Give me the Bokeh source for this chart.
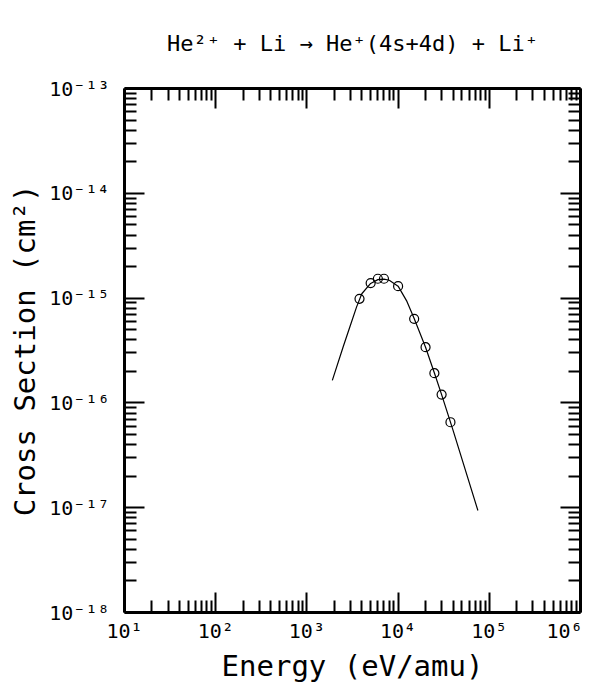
import numpy as np
from bokeh.plotting import figure
from bokeh.models import LogAxis, FixedTicker, ColumnDataSource
from bokeh.embed import file_html
from bokeh.resources import INLINE

# ---- texts ----
title_text = "He²⁺ + Li → He⁺(4s+4d) + Li⁺"
x_title = "Energy (eV/amu)"
y_title = "Cross Section (cm²)"

# ---- ticks ----
x_ticks = [1e1, 1e2, 1e3, 1e4, 1e5, 1e6]
x_tick_labels = ["10¹", "10²", "10³", "10⁴", "10⁵", "10⁶"]
y_ticks = [1e-18, 1e-17, 1e-16, 1e-15, 1e-14, 1e-13]
y_tick_labels = ["10⁻¹⁸", "10⁻¹⁷", "10⁻¹⁶", "10⁻¹⁵", "10⁻¹⁴", "10⁻¹³"]
minor_mult = [2, 3, 4, 5, 6, 7, 8, 9]

# ---- data: fitted curve ----
fit_energy = [1900, 2500, 3000, 3500, 4000, 5000, 6000, 7000, 8000,
              10000, 12500, 15000, 20000, 25000, 30000, 40000, 75000]
fit_sigma = [1.64e-16, 3.43e-16, 5.5e-16, 8.2e-16, 1.10e-15, 1.38e-15, 1.50e-15,
             1.52e-15, 1.48e-15, 1.30e-15, 9.3e-16, 6.4e-16, 3.4e-16, 1.93e-16,
             1.20e-16, 5.5e-17, 9.4e-18]

# ---- data: measured points ----
exp_energy = [3775, 5000, 6000, 7000, 10000, 15000, 20000, 25000, 30000, 37500]
exp_sigma = [9.85e-16, 1.39e-15, 1.53e-15, 1.53e-15, 1.30e-15, 6.34e-16,
             3.40e-16, 1.92e-16, 1.20e-16, 6.54e-17]

FONT = "DejaVu Sans Mono"

p = figure(frame_width=456, frame_height=524, x_axis_type="log", y_axis_type="log",
           x_range=(x_ticks[0], x_ticks[-1]), y_range=(y_ticks[0], y_ticks[-1]),
           output_backend="svg", toolbar_location=None,
           min_border_left=124, min_border_right=2,
           min_border_top=88, min_border_bottom=66)
p.outline_line_color = None
p.xgrid.visible = False
p.ygrid.visible = False
p.background_fill_color = "white"
p.border_fill_color = "white"
p.title.visible = False


def minor_of(ticks):
    return [m * t for t in ticks[:-1] for m in minor_mult]


def style(ax, ticks, labels=None):
    ax.ticker = FixedTicker(ticks=ticks, minor_ticks=minor_of(ticks))
    ax.axis_line_width = 3
    ax.axis_line_color = "black"
    ax.major_tick_in = 20
    ax.major_tick_out = 0
    ax.minor_tick_in = 12
    ax.minor_tick_out = 0
    ax.major_tick_line_width = 2
    ax.minor_tick_line_width = 2
    ax.major_tick_line_color = "black"
    ax.minor_tick_line_color = "black"
    if labels is None:
        ax.major_label_text_color = None
    else:
        ax.major_label_overrides = dict(zip(ticks, labels))
        ax.major_label_text_font = FONT
        ax.major_label_text_font_size = "20px"
        ax.major_label_text_color = "black"


xax = p.xaxis[0]
yax = p.yaxis[0]
style(xax, x_ticks, x_tick_labels)
style(yax, y_ticks, y_tick_labels)
xax.major_label_standoff = 6
yax.major_label_standoff = 15

xax.axis_label = x_title
yax.axis_label = y_title
for ax in (xax, yax):
    ax.axis_label_text_font = FONT
    ax.axis_label_text_font_size = "29px"
    ax.axis_label_text_font_style = "normal"
    ax.axis_label_text_color = "black"
xax.axis_label_standoff = 3
yax.axis_label_standoff = 4

# top axis carries the chart title as its label
top = LogAxis()
style(top, x_ticks)
top.axis_label = title_text
top.axis_label_text_font = FONT
top.axis_label_text_font_size = "22px"
top.axis_label_text_font_style = "normal"
top.axis_label_text_color = "black"
top.axis_label_standoff = 33

right = LogAxis()
style(right, y_ticks)
p.add_layout(top, "above")
p.add_layout(right, "right")

src_fit = ColumnDataSource(dict(x=fit_energy, y=fit_sigma))
src_exp = ColumnDataSource(dict(x=exp_energy, y=exp_sigma))
p.line("x", "y", source=src_fit, line_color="black", line_width=1.2)
p.scatter("x", "y", source=src_exp, marker="circle", size=9,
          fill_color=None, line_color="black", line_width=1.2)

open("out.html", "w").write(file_html(p, INLINE))
